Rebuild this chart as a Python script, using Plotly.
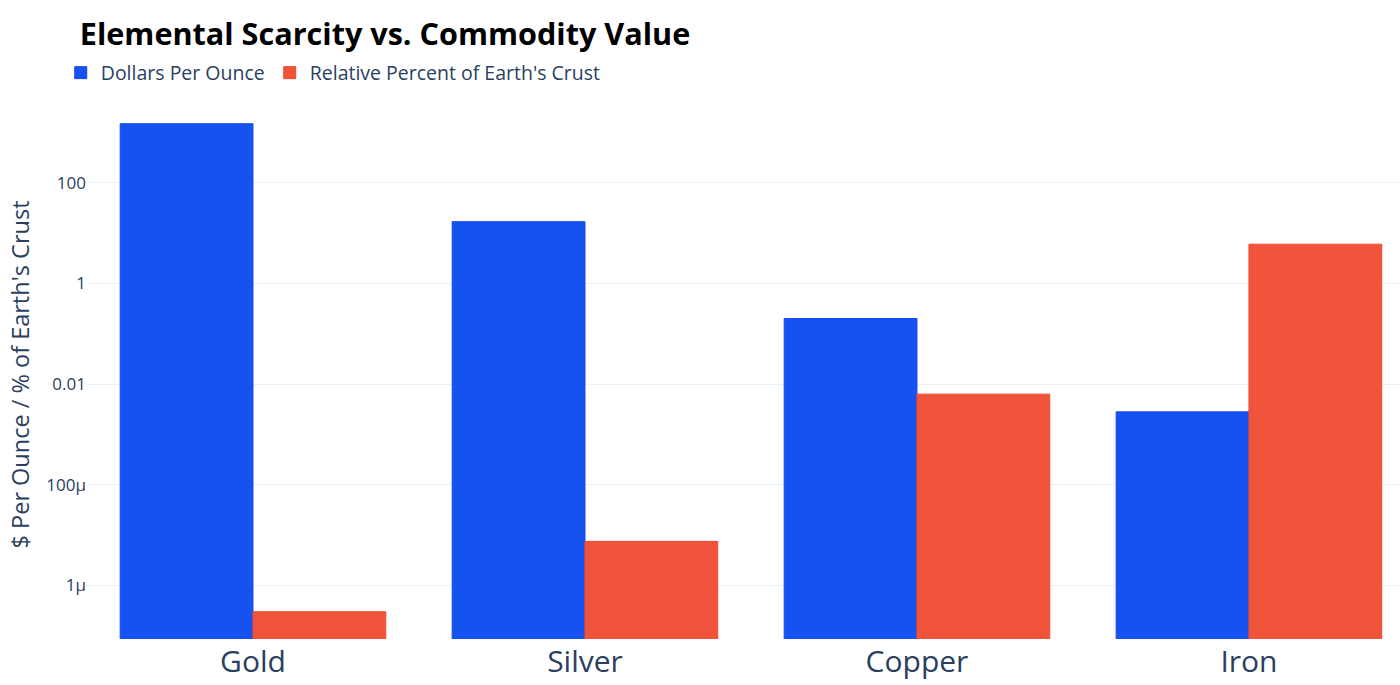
import plotly.graph_objects as go

elements = ["Gold", "Silver", "Copper", "Iron"]
dollars_per_ounce = [1480, 16.8, 0.2, 0.0028]
percent_of_crust = [3.0e-7, 7.5e-6, 0.0063, 6.0]

fig = go.Figure()
fig.add_trace(go.Bar(
    name="Dollars Per Ounce", x=elements, y=dollars_per_ounce,
    marker=dict(color="#1652F0", line=dict(color="#1548EE", width=1)),
))
fig.add_trace(go.Bar(
    name="Relative Percent of Earth's Crust", x=elements, y=percent_of_crust,
    marker=dict(color="#F0553B", line=dict(color="#F24A30", width=1)),
))

fig.update_layout(
    template="plotly_white",
    width=1400, height=685,
    margin=dict(l=87, r=0, t=110, b=46),
    font=dict(family="Open Sans", color="#2a3f5f"),
    title=dict(text="<b>Elemental Scarcity vs. Commodity Value</b>",
               font=dict(size=30.6, color="black", family="Open Sans"),
               x=0.057, xanchor="left", y=0.95, yanchor="middle"),
    legend=dict(orientation="h", x=-0.02, xanchor="left", y=1.07, yanchor="middle",
                font=dict(size=19.5), traceorder="normal"),
    barmode="group", bargap=0.2, bargroupgap=0,
)
fig.update_xaxes(range=[-0.5, 3.455], tickfont=dict(size=30), ticklabelstandoff=2)
fig.update_yaxes(type="log", range=[-7.064, 3.443], dtick=2,
                 tickfont=dict(size=17), gridcolor="#EBF0F8",
                 title=dict(text="$ Per Ounce / % of Earth's Crust", font=dict(size=23.5), standoff=10))

fig.write_html("out.html")
